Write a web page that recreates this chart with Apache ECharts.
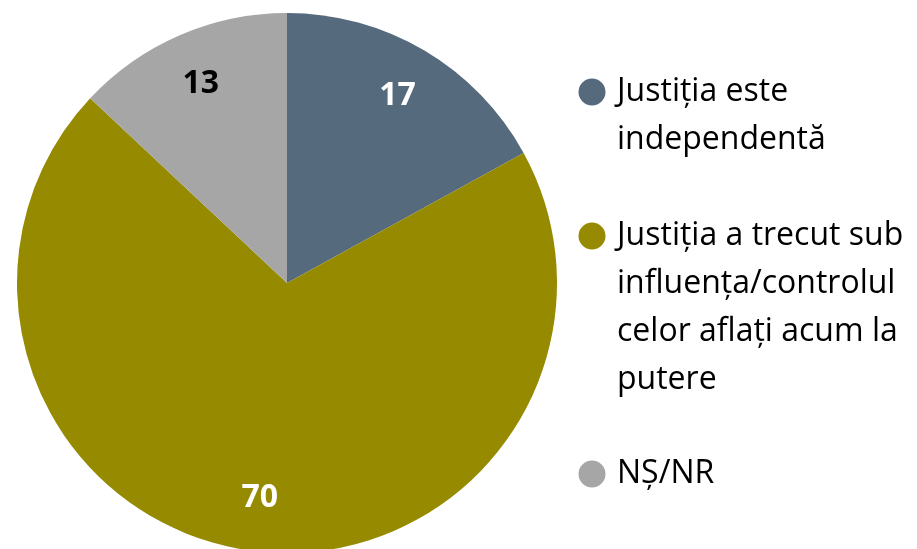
<!DOCTYPE html>
<html>
<head>
<meta charset="utf-8">
<script src="https://cdn.jsdelivr.net/npm/echarts@6/dist/echarts.min.js"></script>
<style>
  html, body { margin: 0; padding: 0; background: #ffffff; }
  #chart { width: 917px; height: 549px; }
</style>
</head>
<body>
<div id="chart"></div>
<script>
// Survey answers: is the judiciary independent?
const categories = [
  'Justiția este independentă',
  'Justiția a trecut sub influența/controlul celor aflați acum la putere',
  'NȘ/NR'
];
const legendLines = [
  ['Justiția este', 'independentă'],
  ['Justiția a trecut sub', 'influența/controlul', 'celor aflați acum la', 'putere'],
  ['NȘ/NR']
];
const values = [17, 70, 13];
const colors = ['#566a7d', '#958a00', '#a6a6a6'];
const labelColors = ['#ffffff', '#ffffff', '#000000'];

const chart = echarts.init(document.getElementById('chart'), null, { renderer: 'canvas' });

const data = categories.map((name, i) => ({
  name: name,
  value: values[i],
  itemStyle: { color: colors[i] }
}));

const labelData = categories.map((name, i) => ({
  name: name,
  value: values[i],
  itemStyle: { color: 'rgba(0,0,0,0)' },
  label: { color: labelColors[i] }
}));

// Legend built as graphic blocks so wrapped text starts level with its marker
const legendX = 592;
const lineH = 48;
const legendTops = [92, 236, 474];
const legendGraphics = [];
legendLines.forEach((lines, i) => {
  legendGraphics.push({
    type: 'circle',
    shape: { cx: legendX, cy: legendTops[i], r: 13.5 },
    style: { fill: colors[i] }
  });
  legendGraphics.push({
    type: 'text',
    x: legendX + 25,
    y: legendTops[i] - lineH / 2,
    style: {
      text: lines.join('\n'),
      font: '32px "Open Sans", sans-serif',
      lineHeight: lineH,
      fill: '#000000',
      verticalAlign: 'top',
      align: 'left'
    }
  });
});

chart.setOption({
  animation: false,
  graphic: legendGraphics,
  series: [
    {
      type: 'pie',
      center: [287, 283],
      radius: [0, 270],
      startAngle: 90,
      clockwise: true,
      silent: true,
      label: { show: false },
      labelLine: { show: false },
      itemStyle: { borderWidth: 0 },
      data: data
    },
    {
      // transparent ring carrying the value labels further out along each slice
      type: 'pie',
      center: [287, 283],
      radius: [158, 270],
      startAngle: 90,
      clockwise: true,
      silent: true,
      label: {
        show: true,
        position: 'inside',
        formatter: '{c}',
        fontFamily: '"Open Sans", sans-serif',
        fontWeight: 'bold',
        fontSize: 32
      },
      labelLine: { show: false },
      itemStyle: { borderWidth: 0 },
      data: labelData
    }
  ]
});
</script>
</body>
</html>
